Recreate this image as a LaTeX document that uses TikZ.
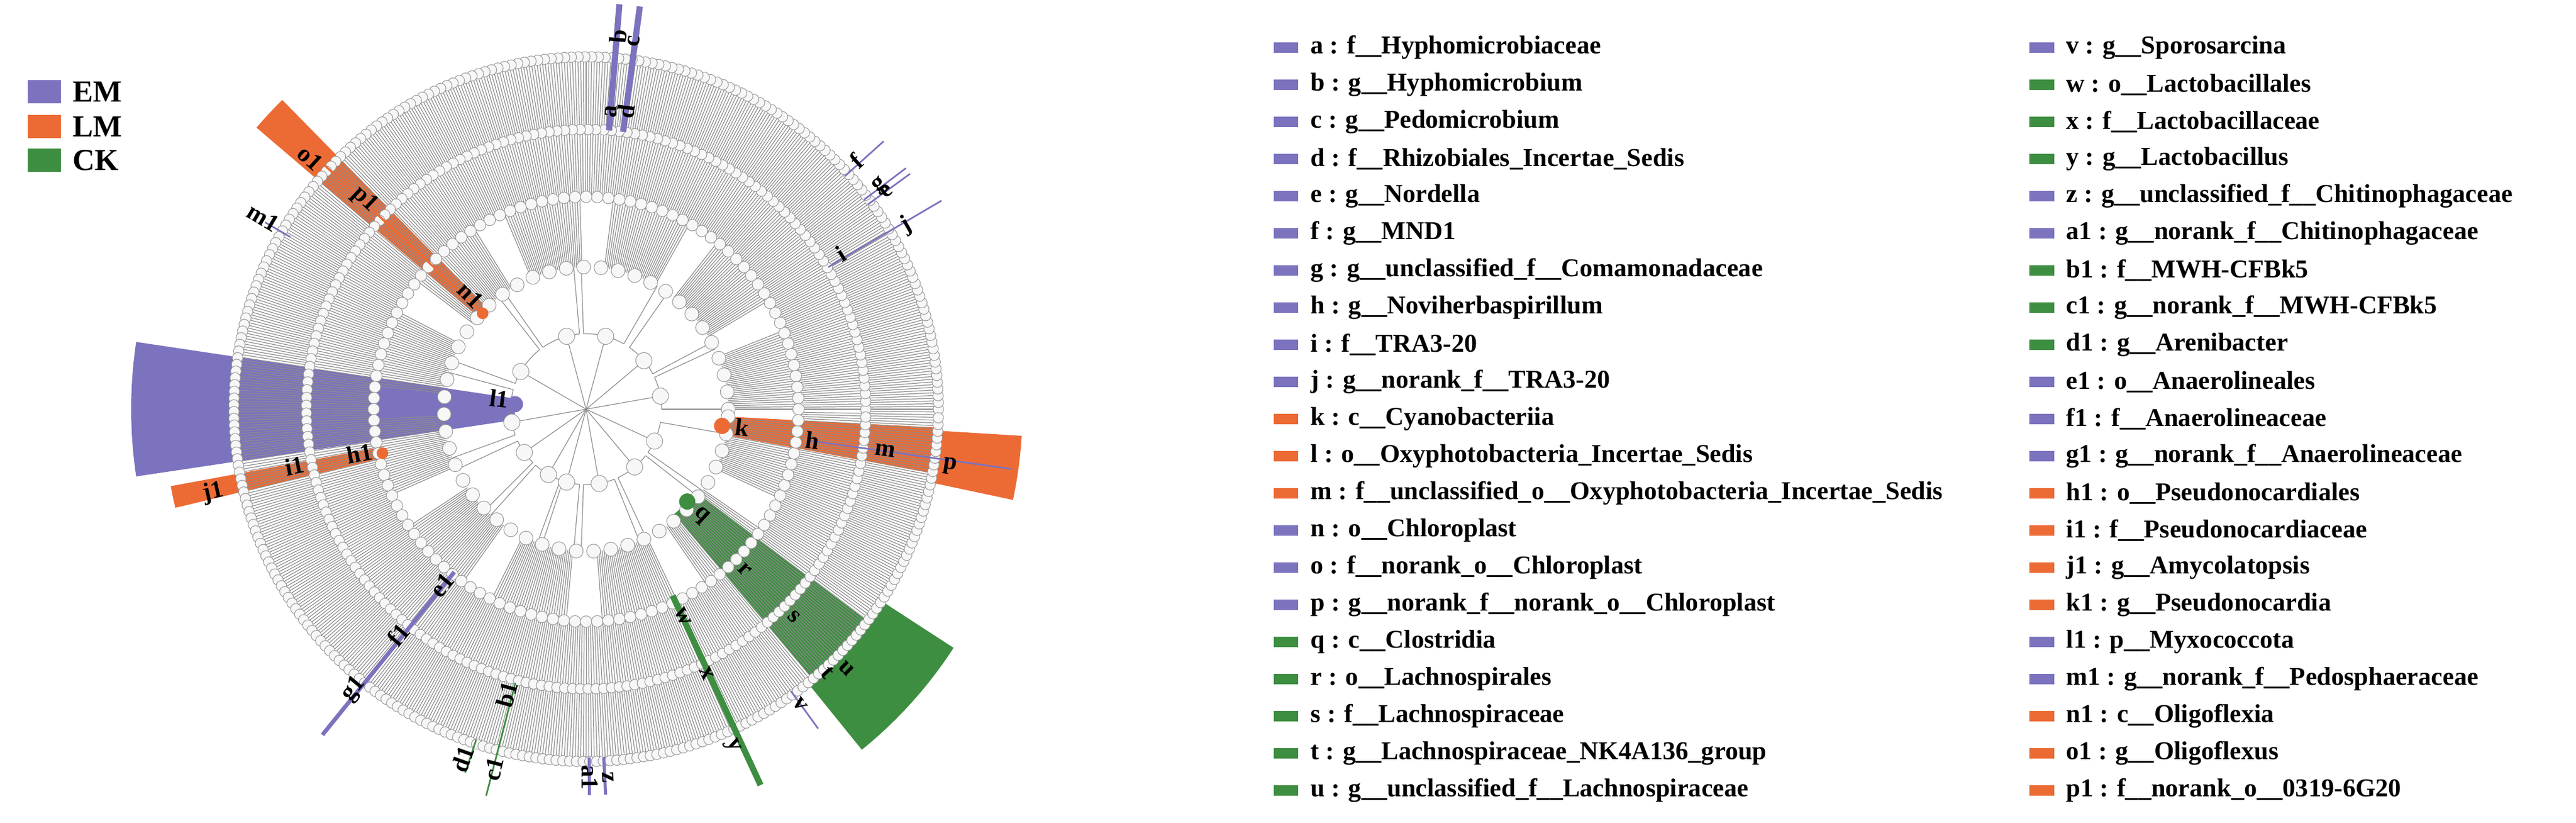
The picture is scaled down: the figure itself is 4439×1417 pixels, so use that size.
\documentclass[tikz,border=0pt]{standalone}
\usepackage{fontspec}
\setmainfont{Liberation Serif}
\newcommand\hlwedge[5]{\fill[#1] (#2:#4) arc[start angle=#2,end angle=#3,radius=#4] -- (#3:#5) arc[start angle=#3,end angle=#2,radius=#5] -- cycle;}
\begin{document}
\begin{tikzpicture}[x=0.01cm,y=0.01cm,
  gl/.style={draw=black!45,line width=0.35pt},
  ring/.style={draw=gray!80,fill=gray!6,line width=0.3pt},
  lab/.style={font=\fontsize{12}{14}\selectfont\bfseries,inner sep=1pt},
  legtxt/.style={font=\fontsize{12.6}{14}\selectfont\bfseries,anchor=west,inner sep=0pt},
  bigleg/.style={font=\fontsize{15}{17}\selectfont\bfseries,anchor=west,inner sep=0pt}]
\definecolor{EM}{RGB}{123,115,190}
\definecolor{LM}{RGB}{236,107,53}
\definecolor{CK}{RGB}{62,142,65}
\useasboundingbox (0,-1417) rectangle (4439,0);
% left legend
\foreach \c/\t/\y in {EM/EM/158,LM/LM/218,CK/CK/276}{
  \fill[\c] (48,-\y-20) rectangle (105,-\y+20);
  \node[bigleg] (leg\t) at (125,-\y) {\t};}
% cladogram
\begin{scope}[shift={(1010,-705)}]
% highlight wedges
\hlwedge{EM}{171.5}{188.5}{123}{784}
\hlwedge{LM}{-3}{-10.5}{236}{607}
\hlwedge{LM}{-3.5}{-12}{607}{752}
\hlwedge{CK}{-37}{-50}{236}{607}
\hlwedge{CK}{-33}{-51}{607}{755}
\hlwedge{LM}{134.5}{139.5}{243}{747}
\hlwedge{LM}{190.5}{193.5}{359}{728}
% gray radial lines
\foreach \a in {0,0.45,...,359.6} {\draw[gl] (\a:482) -- (\a:607);}
\foreach \a in {0,0.55,...,359.5} {\draw[gl] (\a:366) -- (\a:482);}
\foreach \a in {0,0.7,...,359.5} {
  \pgfmathtruncatemacro\k{mod(floor(\a*0.23),7)}
  \ifnum\k<5 \draw[gl] (\a:245) -- (\a:366);\fi}
% inner tree
\foreach \a/\b/\c in {10/0/25,40/28/55,75/60/92,105/95/125,150/128/160,190/165/200,215/205/225,240/228/250,255/252/265,280/268/292,310/295/322,335/325/350}{
  \draw[gl] (0,0) -- (\a:130);
  \draw[gl] (\b:130) arc[start angle=\b,end angle=\c,radius=130];
  \foreach \d in {\b,\c} {\draw[gl] (\d:130) -- (\d:245);}
  \fill[ring] (\a:130) circle (14);}
% ring circles
\foreach \a in {0,1.1,...,359.5} {\fill[ring] (\a:607) circle (9);}
\foreach \a in {0,1.6,...,359.5} {\fill[ring] (\a:482) circle (9);}
\foreach \a in {0,3,...,359} {\fill[ring] (\a:366) circle (10);}
\foreach \a in {0,7,...,359} {\fill[ring] (\a:245) circle (12);}
% coloured lines
\begin{scope}[line cap=butt]
\draw[EM,line width=3pt] (85.3:482) -- (85.3:700);
\draw[EM,line width=3pt] (82.4:482) -- (82.4:700);
\draw[EM,line width=0.8pt] (42:600) -- (42:690);
\draw[EM,line width=0.8pt] (36:600) -- (36:690);
\draw[EM,line width=0.8pt] (37:600) -- (37:690);
\draw[EM,line width=0.8pt] (30.4:484) -- (30.4:710);
\draw[EM,line width=0.8pt] (149.8:590) -- (149.8:640);
\draw[EM,line width=2pt] (231:361) -- (231:722);
\draw[CK,line width=3pt] (294.9:354) -- (294.9:714);
\draw[EM,line width=0.8pt] (306:600) -- (306:680);
\draw[CK,line width=0.8pt] (255.5:487) -- (255.5:688);
\draw[CK,line width=0.8pt] (251.6:600) -- (251.6:660);
\draw[EM,line width=1.5pt] (270.5:600) -- (270.5:665);
\draw[EM,line width=1.5pt] (272.9:600) -- (272.9:665);
\draw[EM,line width=0.8pt] (-8:390) -- (-8:740);
\draw[LM,line width=1pt] (137:250) -- (137:740);
\end{scope}
\fill[EM] (176:123) circle (14);
\fill[LM] (-7:236) circle (14);
\fill[CK] (-42.4:236) circle (14);
\fill[LM] (137.2:243) circle (10);
\fill[LM] (192.2:359) circle (10);
% labels
\foreach \n/\a/\r in {l1/173/151,k/-6.6/271,h/-7.8/394,m/-7.9/520,p/-8.9/635,
  q/-42.7/270,r/-45.3/389,s/-44.9/506,u/-44.9/633,t/-47.5/615,
  o1/137.7/643,p1/136.6/526,n1/135.4/280,m1/149.3/647,
  h1/191/398,i1/191/512,j1/192.6/658,e1/230.7/392,f1/230.2/506,g1/230.3/627,
  w/295/394,x/294.5/500,y/293.4/632,v/305.9/628,
  b1/254.5/510,c1/255.6/640,d1/250.6/639,z/273.4/635,a1/270.6/634,
  b/85.1/645,c/82.6/639,a/85.2/515,d/82.4/518,
  f/42.6/633,e/36/640,g/37.2/636,j/29.9/636,i/31.4/514}{
  \pgfmathsetmacro\rot{ifthenelse(cos(\a)<0,\a-180,\a)}
  \node[lab,rotate=\rot] (lab\n) at (\a:\r) {\n};}
\end{scope}
% right legend
\foreach \c/\t [count=\i from 0] in {
 EM/a : f\_\_Hyphomicrobiaceae,
 EM/b : g\_\_Hyphomicrobium,
 EM/c : g\_\_Pedomicrobium,
 EM/d : f\_\_Rhizobiales\_Incertae\_Sedis,
 EM/e : g\_\_Nordella,
 EM/f : g\_\_MND1,
 EM/g : g\_\_unclassified\_f\_\_Comamonadaceae,
 EM/h : g\_\_Noviherbaspirillum,
 EM/i : f\_\_TRA3-20,
 EM/j : g\_\_norank\_f\_\_TRA3-20,
 LM/k : c\_\_Cyanobacteriia,
 LM/l : o\_\_Oxyphotobacteria\_Incertae\_Sedis,
 LM/m : f\_\_unclassified\_o\_\_Oxyphotobacteria\_Incertae\_Sedis,
 EM/n : o\_\_Chloroplast,
 EM/o : f\_\_norank\_o\_\_Chloroplast,
 EM/p : g\_\_norank\_f\_\_norank\_o\_\_Chloroplast,
 CK/q : c\_\_Clostridia,
 CK/r : o\_\_Lachnospirales,
 CK/s : f\_\_Lachnospiraceae,
 CK/t : g\_\_Lachnospiraceae\_NK4A136\_group,
 CK/u : g\_\_unclassified\_f\_\_Lachnospiraceae}{
  \fill[\c] (2195,-82-64*\i-9) rectangle (2237,-82-64*\i+9);
  \node[legtxt] (la\i) at (2258,-82-64*\i) {\t};}
\foreach \c/\t [count=\i from 0] in {
 EM/v : g\_\_Sporosarcina,
 CK/w : o\_\_Lactobacillales,
 CK/x : f\_\_Lactobacillaceae,
 CK/y : g\_\_Lactobacillus,
 EM/z : g\_\_unclassified\_f\_\_Chitinophagaceae,
 EM/a1 : g\_\_norank\_f\_\_Chitinophagaceae,
 CK/b1 : f\_\_MWH-CFBk5,
 CK/c1 : g\_\_norank\_f\_\_MWH-CFBk5,
 CK/d1 : g\_\_Arenibacter,
 EM/e1 : o\_\_Anaerolineales,
 EM/f1 : f\_\_Anaerolineaceae,
 EM/g1 : g\_\_norank\_f\_\_Anaerolineaceae,
 LM/h1 : o\_\_Pseudonocardiales,
 LM/i1 : f\_\_Pseudonocardiaceae,
 LM/j1 : g\_\_Amycolatopsis,
 LM/k1 : g\_\_Pseudonocardia,
 EM/l1 : p\_\_Myxococcota,
 EM/m1 : g\_\_norank\_f\_\_Pedosphaeraceae,
 LM/n1 : c\_\_Oligoflexia,
 LM/o1 : g\_\_Oligoflexus,
 LM/p1 : f\_\_norank\_o\_\_0319-6G20}{
  \fill[\c] (3497,-82-64*\i-9) rectangle (3540,-82-64*\i+9);
  \node[legtxt] (lb\i) at (3560,-82-64*\i) {\t};}
\end{tikzpicture}
\end{document}
